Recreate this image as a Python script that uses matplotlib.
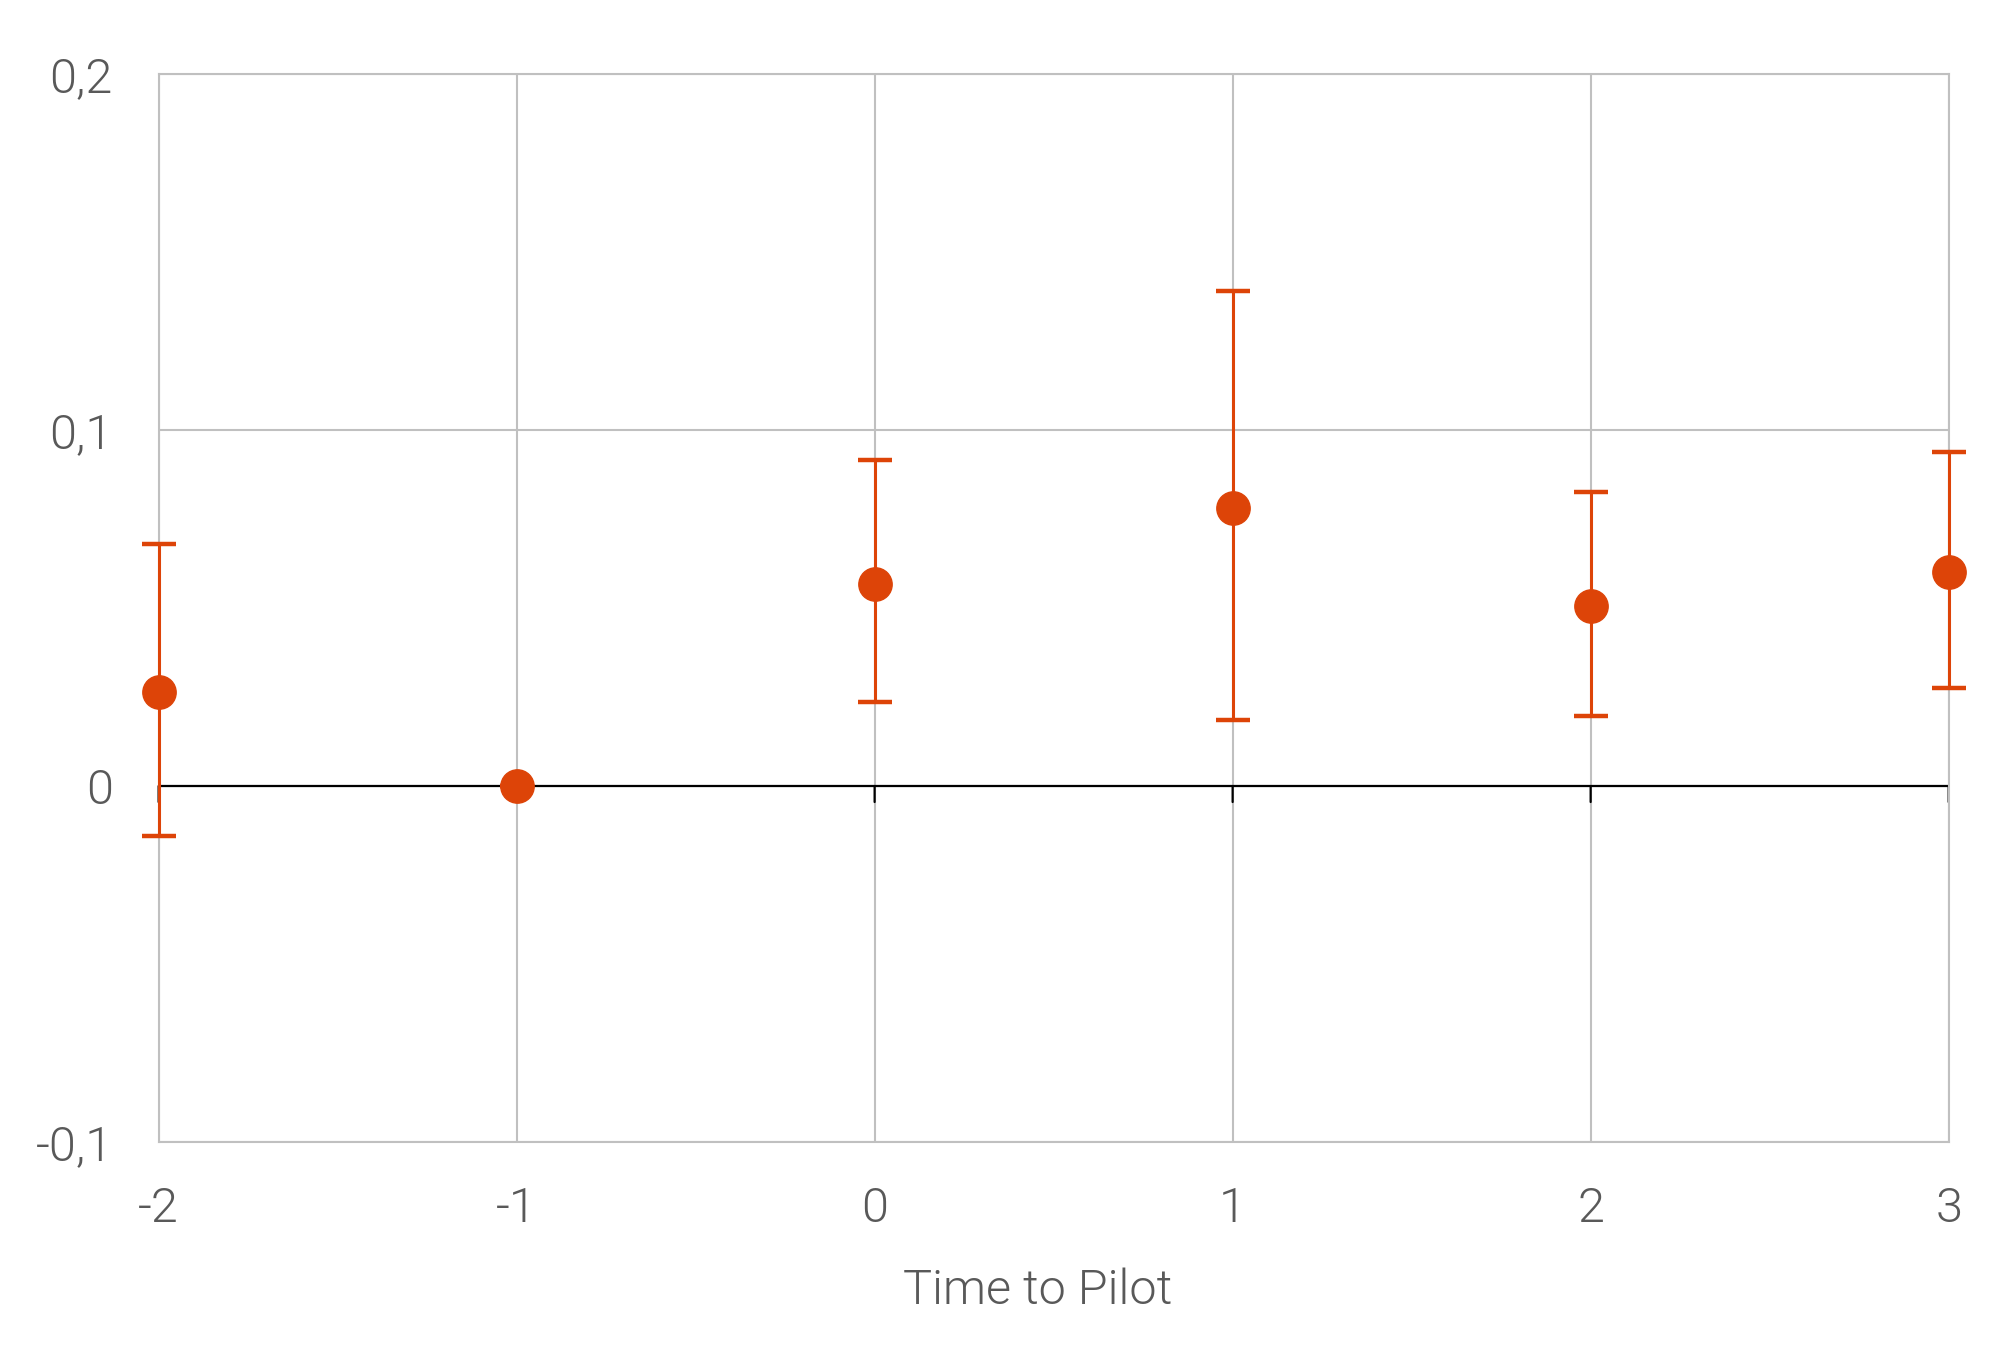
import matplotlib
matplotlib.use("Agg")
import matplotlib.pyplot as plt
from matplotlib.transforms import offset_copy

# ── Data ──
time_to_pilot = [-2, -1, 0, 1, 2, 3]
estimate = [0.0263, 0.0, 0.0569, 0.0781, 0.0506, 0.0602]
ci_upper = [0.0680, 0.0, 0.0917, 0.1390, 0.0826, 0.0939]
ci_lower = [-0.0141, 0.0, 0.0235, 0.0185, 0.0197, 0.0276]

x_ticks = [-2, -1, 0, 1, 2, 3]
x_tick_labels = ["-2", "-1", "0", "1", "2", "3"]
y_ticks = [-0.1, 0.0, 0.1, 0.2]
y_tick_labels = ["-0,1", "0", "0,1", "0,2"]

ORANGE = "#DD4408"
GRID = "#C0C0C0"
TEXT = "#595959"

plt.rcParams.update({
    "font.family": ["Roboto", "DejaVu Sans"],
    "font.weight": 300,
    "axes.labelweight": 300,
})

fig = plt.figure(figsize=(20.05, 13.54), dpi=100)
ax = fig.add_axes([0.0791, 0.1566, 0.8928, 0.7886])

err_lo = [e - l for e, l in zip(estimate, ci_lower)]
err_hi = [u - e for e, u in zip(estimate, ci_upper)]

ax.set_xlim(x_ticks[0], x_ticks[-1])
ax.set_ylim(y_ticks[0], y_ticks[-1])

# grid and frame
ax.grid(True, color=GRID, linewidth=1.5, zorder=0)
ax.set_axisbelow(True)
for s in ax.spines.values():
    s.set_color(GRID)
    s.set_linewidth(1.5)

# zero axis line with small tick marks hanging below it
ax.axhline(0, color="black", linewidth=1.6, zorder=2)
tick_trans = offset_copy(ax.transData, fig=fig, x=0, y=-11.5, units="points")
for xt in x_ticks:
    ax.annotate("", xy=(xt, 0), xytext=(xt, 0), xycoords="data",
                textcoords=tick_trans, annotation_clip=False,
                arrowprops=dict(arrowstyle="-", color="black", lw=1.6,
                                shrinkA=0, shrinkB=0), zorder=2)

ax.errorbar(time_to_pilot, estimate, yerr=[err_lo, err_hi],
            fmt="o", color=ORANGE, markersize=24,
            elinewidth=2.2, capsize=12, capthick=3.2, zorder=5, clip_on=False)

ax.set_xticks(x_ticks)
ax.set_xticklabels(x_tick_labels)
ax.set_yticks(y_ticks)
ax.set_yticklabels(y_tick_labels)
ax.tick_params(axis="both", length=0, labelsize=35, labelcolor=TEXT)
ax.tick_params(axis="x", pad=31)
ax.tick_params(axis="y", pad=33)

ax.set_xlabel("Time to Pilot", fontsize=35, color=TEXT, fontweight=300)
ax.xaxis.set_label_coords(0.491, -0.139)
ax.xaxis.label.set_va("center")

fig.savefig("out.png", dpi=100, facecolor="white")
